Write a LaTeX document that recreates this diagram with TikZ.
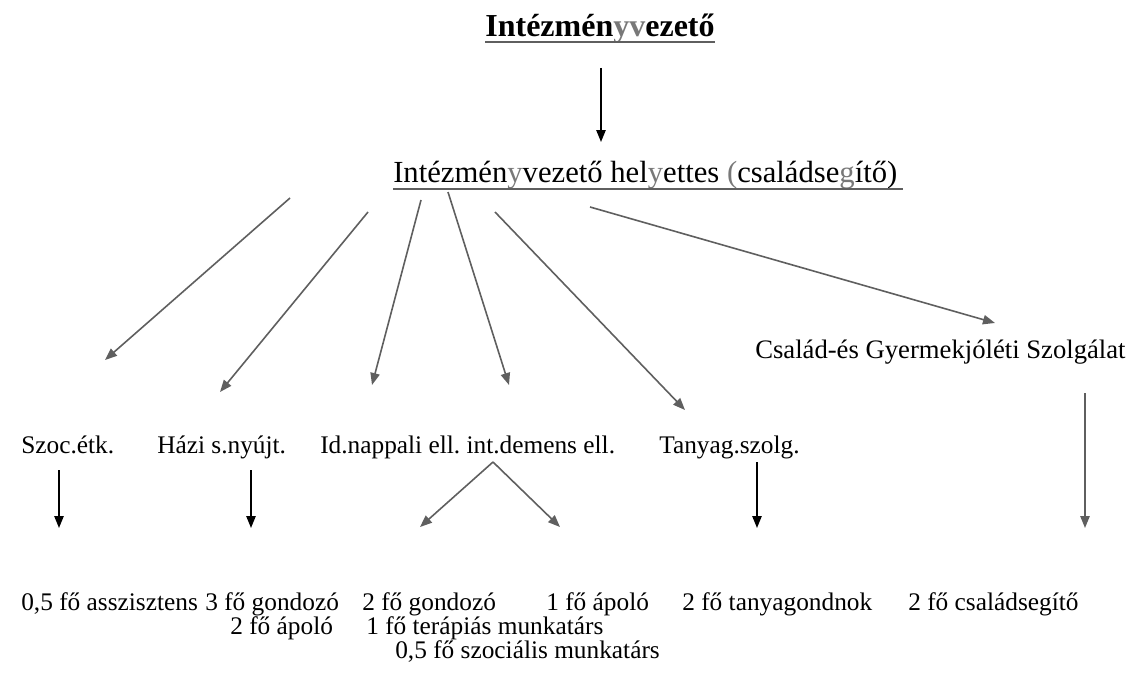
\documentclass[tikz,border=0pt]{standalone}
\usepackage{fontspec}
\setmainfont{Liberation Serif}
\usetikzlibrary{arrows.meta}
\usetikzlibrary{calc}
\definecolor{scangray}{RGB}{95,95,95}
\definecolor{lettergray}{RGB}{120,120,120}
\frenchspacing

\begin{document}
\begin{tikzpicture}[x=0.75pt,y=0.75pt,yscale=-1,xscale=1,
    txt/.style={anchor=base west,inner sep=0pt,font=\fontsize{19}{22}\selectfont},
    blackarr/.style={draw=black,line width=1.2,-{Triangle[length=9pt,width=7pt]}},
    grayarr/.style={draw=scangray,line width=1.2,-{Triangle[length=9pt,width=7pt]}}]
\useasboundingbox (0,0) rectangle (1142,674);

%Text [title]
\node[anchor=base,inner sep=0pt,font=\fontsize{24}{28}\selectfont\bfseries] (vez) at (600,37) {Intézmén\textcolor{lettergray}{yv}ezető};
\draw[scangray,line width=2] ($(vez.base west)+(0,5)$) -- ($(vez.base east)+(0,5)$);

%Text [deputy]
\node[anchor=base west,inner sep=0pt,font=\fontsize{23}{27}\selectfont] (hely) at (393,182) {Intézmén\textcolor{lettergray}{y}vezető hel\textcolor{lettergray}{y}ettes \textcolor{lettergray}{(}családse\textcolor{lettergray}{g}ítő)};
\draw[scangray,line width=1.5] ($(hely.base west)+(0,7)$) -- ($(hely.base east)+(5,7)$);

%Straight Lines [top]
\coordinate (t0) at (601,68);
\coordinate (t1) at (601,142);
\draw[blackarr] (t0) -- (t1);

%Text [second row]
\node[txt] (szoc) at (21,453) {Szoc.étk.};
\node[txt] (hazi) at (157,453) {Házi s.nyújt.};
\node[txt] (napp) at (320,453) {Id.nappali ell. int.demens ell.};
\node[txt] (tany) at (659,453) {Tanyag.szolg.};
\node[anchor=base west,inner sep=0pt,font=\fontsize{20}{24}\selectfont] (csgy) at (755,358) {Család-és Gyermekjóléti Szolgálat};

%Straight Lines [fan]
\coordinate (a1) at (290,198);
\coordinate (b1) at (105,360);
\coordinate (a2) at (368,212);
\coordinate (b2) at (220,392);
\coordinate (a3) at (421,200);
\coordinate (b3) at (372,385);
\coordinate (a4) at (448,192);
\coordinate (b4) at (509,385);
\coordinate (a5) at (495,212);
\coordinate (b5) at (685,410);
\coordinate (a6) at (590,207);
\coordinate (b6) at (995,323);
\draw[grayarr] (a1) -- (b1);
\draw[grayarr] (a2) -- (b2);
\draw[grayarr] (a3) -- (b3);
\draw[grayarr] (a4) -- (b4);
\draw[grayarr] (a5) -- (b5);
\draw[grayarr] (a6) -- (b6);

%Straight Lines [down]
\coordinate (c1) at (59,470);
\coordinate (d1) at (59,528);
\coordinate (c2) at (251,470);
\coordinate (d2) at (251,528);
\coordinate (c3) at (757,462);
\coordinate (d3) at (757,528);
\coordinate (c4) at (1085,393);
\coordinate (d4) at (1085,528);
\draw[blackarr] (c1) -- (d1);
\draw[blackarr] (c2) -- (d2);
\draw[blackarr] (c3) -- (d3);
\draw[grayarr] (c4) -- (d4);

%Straight Lines [split]
\coordinate (v0) at (493,462);
\coordinate (v1) at (420,527);
\coordinate (v2) at (560,527);
\draw[grayarr] (v0) -- (v1);
\draw[grayarr] (v0) -- (v2);

%Text [staff]
\node[txt] (f1) at (21,610) {0,5 fő asszisztens};
\node[txt] (f2) at (205,610) {3 fő gondozó};
\node[txt] (f3) at (230,634) {2 fő ápoló};
\node[txt] (f4) at (362,610) {2 fő gondozó};
\node[txt] (f5) at (546,610) {1 fő ápoló};
\node[txt] (f6) at (366,634) {1 fő terápiás munkatárs};
\node[txt] (f7) at (395,658) {0,5 fő szociális munkatárs};
\node[txt] (f8) at (682,610) {2 fő tanyagondnok};
\node[txt] (f9) at (908,610) {2 fő családsegítő};

\end{tikzpicture}
\end{document}
